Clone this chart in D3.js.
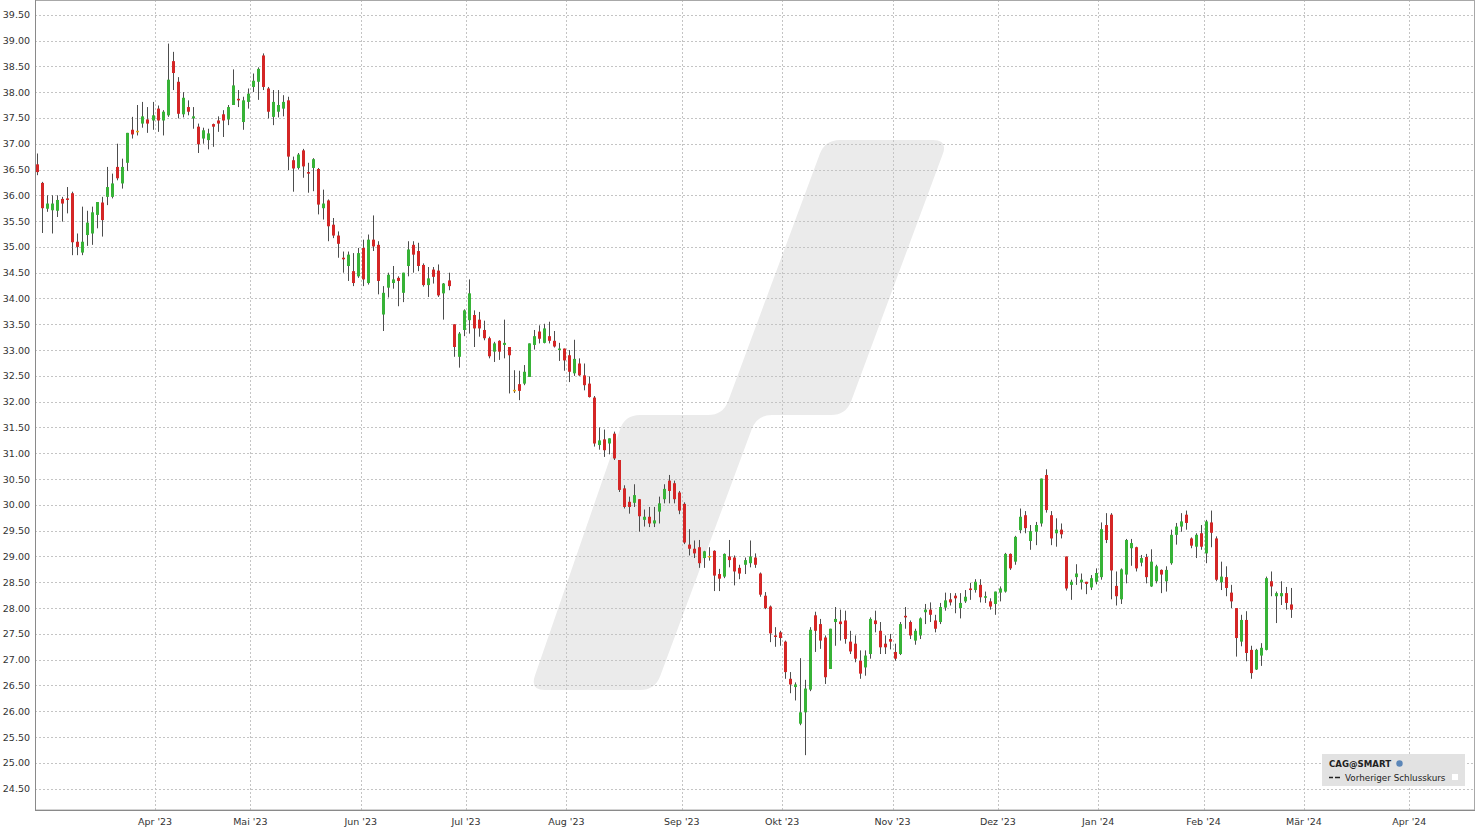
<!DOCTYPE html>
<html><head><meta charset="utf-8">
<script src="https://cdn.jsdelivr.net/npm/d3@7"></script>
<style>html,body{margin:0;padding:0;background:#fff;} svg{display:block;font-family:"DejaVu Sans",sans-serif;}</style>
</head><body><svg id="c" width="1480" height="833"></svg>
<script>
// ---- categories: trading days (weekdays minus US market holidays) ----
const firstDay = "2023-02-28";
const lastAxisDay = "2024-04-30";
const holidays = ["2023-04-07","2023-05-29","2023-06-19","2023-07-04","2023-09-04","2023-11-23","2023-12-25","2024-01-01","2024-01-15","2024-02-19"];
// ---- x tick labels ----
const tickMonths = ["2023-04","2023-05","2023-06","2023-07","2023-08","2023-09","2023-10","2023-11","2023-12","2024-01","2024-02","2024-03","2024-04"];
const tickLabels = ["Apr '23","Mai '23","Jun '23","Jul '23","Aug '23","Sep '23","Okt '23","Nov '23","Dez '23","Jan '24","Feb '24","Mär '24","Apr '24"];
// ---- y tick labels ----
const yTicks = [24.5,25,25.5,26,26.5,27,27.5,28,28.5,29,29.5,30,30.5,31,31.5,32,32.5,33,33.5,34,34.5,35,35.5,36,36.5,37,37.5,38,38.5,39,39.5];
// ---- series: OHLC ----
const openP = [36.60,36.24,35.74,35.71,35.70,35.93,35.94,36.04,35.10,34.89,35.23,35.26,35.62,35.86,35.97,35.97,36.55,36.23,36.63,37.27,37.25,37.39,37.47,37.45,37.68,37.45,37.55,38.60,38.20,37.57,37.71,37.49,37.33,37.10,37.07,37.38,37.45,37.57,37.47,37.75,37.87,37.42,37.81,38.10,38.20,38.71,38.07,37.52,37.62,37.68,37.84,36.68,36.53,36.87,36.45,36.53,36.51,35.75,35.90,35.43,35.22,34.79,34.63,34.53,34.43,34.98,34.30,35.14,35.04,33.69,34.21,34.30,34.40,34.11,34.63,35.04,34.92,34.65,34.26,34.56,34.54,34.10,34.35,33.50,32.87,33.39,33.58,33.68,33.59,33.39,33.23,32.97,33.18,33.10,33.06,32.23,32.34,32.35,32.48,33.10,33.36,33.14,33.27,33.18,33.01,33.03,32.90,32.55,32.74,32.51,32.35,32.08,31.16,31.27,31.19,31.38,30.87,30.32,30.06,30.04,30.11,29.71,29.77,29.64,29.87,30.11,30.47,30.42,30.24,30.02,29.23,29.15,29.18,28.97,29.01,29.11,28.66,28.61,29.00,28.98,28.78,28.84,28.87,28.98,28.67,28.24,28.03,27.47,27.53,27.35,26.63,26.47,25.76,25.98,26.42,27.86,27.69,27.43,26.82,27.73,27.74,27.76,27.35,27.31,26.98,26.85,27.11,27.76,27.56,27.31,27.40,27.15,27.11,27.85,27.73,27.37,27.47,27.92,27.97,27.76,27.73,28.01,28.17,28.24,28.00,28.13,28.38,28.35,28.45,28.20,28.13,28.08,28.30,28.32,29.05,28.90,29.51,29.80,29.30,29.48,29.64,30.58,29.80,29.45,29.52,29.00,28.45,28.60,28.50,28.51,28.40,28.51,28.60,29.61,29.81,28.43,28.17,28.65,29.16,29.18,28.88,28.99,28.42,28.52,28.74,28.52,28.87,29.42,29.58,29.81,29.35,29.19,29.45,29.06,29.66,29.35,28.50,28.60,28.30,28.00,27.35,27.77,27.19,26.81,27.08,27.19,28.52,28.23,28.23,28.29,28.07];
const highP = [36.81,36.26,36.00,36.00,36.00,35.97,36.16,36.07,35.26,35.78,35.70,35.78,35.87,35.97,36.55,36.42,37.00,36.71,37.21,37.52,37.75,37.81,37.71,37.81,37.74,37.65,38.94,38.78,38.29,38.00,37.84,37.71,37.39,37.31,37.29,37.39,37.53,37.65,37.75,38.44,38.04,37.91,38.07,38.36,38.48,38.75,38.10,38.04,38.04,37.94,37.91,36.75,36.82,36.90,36.63,36.72,36.53,36.11,35.92,35.56,35.30,34.91,34.91,34.88,34.98,35.14,35.24,35.61,35.11,34.24,34.50,34.63,34.43,34.50,35.11,35.11,35.08,34.68,34.61,34.61,34.66,34.30,34.50,33.50,33.35,33.79,34.37,33.77,33.74,33.57,33.26,33.16,33.19,33.59,33.06,32.61,32.60,32.71,33.13,33.39,33.48,33.51,33.55,33.37,33.14,33.03,33.00,33.20,32.84,32.74,32.49,32.11,31.50,31.46,31.29,31.42,30.87,30.38,30.16,30.40,30.11,29.91,29.96,29.96,30.16,30.40,30.58,30.47,30.27,30.05,29.53,29.31,29.32,29.11,29.18,29.12,28.76,29.06,29.32,29.02,28.84,28.98,29.31,29.06,28.69,28.31,28.05,27.63,27.56,27.37,26.76,26.56,27.03,26.61,27.63,27.93,27.79,27.47,27.60,28.02,27.97,27.95,27.56,27.47,27.18,27.18,27.82,27.95,27.73,27.47,27.50,27.31,27.73,28.02,27.76,27.60,27.82,28.08,28.11,27.87,28.10,28.30,28.29,28.29,28.29,28.35,28.49,28.56,28.56,28.32,28.19,28.32,28.42,29.07,29.06,29.40,29.93,29.88,29.61,29.67,30.51,30.69,29.88,29.74,29.64,29.00,28.55,28.85,28.67,28.51,28.64,28.77,29.66,29.84,29.84,28.71,28.77,29.34,29.34,29.19,29.03,29.05,29.14,28.84,28.75,28.81,29.52,29.65,29.84,29.89,29.37,29.45,29.61,29.71,29.89,29.39,28.90,28.81,28.45,28.00,27.87,27.94,27.27,27.21,27.32,28.61,28.71,28.32,28.52,28.41,28.39];
const lowP = [36.39,35.27,35.68,35.26,35.58,35.49,35.65,34.84,34.84,34.84,35.02,35.04,35.36,35.20,35.81,35.94,36.29,36.13,36.47,37.10,37.16,37.31,37.21,37.27,37.23,37.16,37.52,38.04,37.49,37.51,37.55,37.29,36.82,37.00,36.89,36.94,37.23,37.13,37.36,37.75,37.71,37.27,37.68,38.00,37.85,38.04,37.49,37.36,37.51,37.53,36.49,36.07,36.50,36.34,36.05,36.08,35.63,35.53,35.11,35.17,34.79,34.50,34.34,34.24,34.40,34.24,34.27,34.92,34.08,33.37,34.02,34.19,33.85,33.93,34.43,34.50,34.53,34.23,34.03,34.29,34.03,33.59,34.16,32.87,32.66,33.27,33.32,33.06,33.26,33.19,32.84,32.77,32.81,32.84,32.16,32.17,32.03,32.32,32.48,33.01,33.13,33.13,33.13,33.05,32.79,32.60,32.38,32.50,32.50,32.22,32.08,31.13,31.07,30.93,30.98,30.87,30.25,29.93,29.83,29.96,29.48,29.58,29.57,29.57,29.64,30.03,30.03,30.03,29.82,29.24,29.02,28.97,28.78,28.78,28.92,28.33,28.33,28.58,28.79,28.44,28.56,28.66,28.79,28.78,28.22,27.98,27.34,27.25,27.27,26.63,26.35,26.21,25.73,25.15,26.39,27.15,27.21,26.53,26.82,27.27,27.37,27.31,27.11,26.95,26.63,26.69,27.02,27.53,27.11,27.11,27.20,26.98,27.09,27.60,27.40,27.29,27.40,27.69,27.73,27.53,27.69,27.95,28.05,27.90,27.80,28.10,28.16,28.30,28.11,28.10,27.97,27.87,28.13,28.30,28.74,28.84,29.45,29.45,29.13,29.22,29.58,29.85,29.22,29.19,29.35,28.34,28.16,28.45,28.36,28.27,28.35,28.46,28.55,29.26,28.17,28.05,28.08,28.48,28.82,28.71,28.81,28.48,28.41,28.48,28.29,28.32,28.84,29.23,29.48,29.52,29.16,28.97,29.13,28.87,29.18,28.52,28.35,28.23,28.00,27.06,27.26,26.97,26.63,26.80,26.88,27.18,28.23,27.71,28.06,27.97,27.81];
const closeP = [36.45,35.75,35.84,35.84,35.91,35.84,35.91,35.09,35.00,35.10,35.47,35.67,35.87,35.52,36.16,36.23,36.33,36.55,37.21,37.18,37.25,37.53,37.39,37.55,37.45,37.62,38.24,38.37,37.58,37.89,37.62,37.53,36.99,37.26,37.20,37.33,37.39,37.45,37.71,38.13,37.84,37.84,37.97,38.22,38.45,38.10,37.62,37.81,37.75,37.81,36.75,36.52,36.79,36.56,36.42,36.70,35.82,35.84,35.40,35.22,35.06,34.76,34.85,34.30,34.88,34.37,35.14,35.01,34.34,34.11,34.46,34.37,34.34,34.50,34.95,34.85,34.63,34.26,34.39,34.42,34.06,34.29,34.24,33.06,33.32,33.77,34.10,33.42,33.42,33.23,32.88,33.13,32.97,33.14,32.90,32.23,32.21,32.58,33.13,33.27,33.22,33.42,33.18,33.07,33.03,32.80,32.58,32.83,32.51,32.32,32.09,31.19,31.25,31.06,31.29,30.90,30.29,29.96,29.96,30.19,29.78,29.77,29.64,29.70,30.03,30.31,30.27,30.11,29.89,29.27,29.15,29.06,28.87,29.10,29.01,28.63,28.57,29.05,28.93,28.71,28.67,28.93,29.00,28.84,28.26,28.00,27.51,27.44,27.42,26.76,26.52,26.52,25.98,26.44,27.58,27.56,27.37,26.66,27.60,27.79,27.69,27.40,27.16,27.02,26.73,27.08,27.79,27.69,27.24,27.24,27.35,27.02,27.69,27.82,27.47,27.56,27.80,27.97,27.87,27.60,28.02,28.15,28.11,28.19,28.10,28.22,28.35,28.51,28.21,28.23,28.03,28.32,28.38,29.05,28.77,29.38,29.77,29.55,29.49,29.61,30.51,29.90,29.35,29.52,29.43,28.38,28.51,28.67,28.55,28.47,28.58,28.68,29.53,29.32,28.73,28.23,28.75,29.32,29.26,28.77,28.97,28.60,28.90,28.81,28.65,28.74,29.42,29.58,29.68,29.65,29.21,29.42,29.19,29.68,29.46,28.55,28.61,28.39,28.13,27.42,27.77,27.13,26.74,27.19,27.23,28.58,28.42,28.29,28.29,28.10,27.97];

// ---- build trading-day index ----
const parse = d3.utcParse("%Y-%m-%d"), fmt = d3.utcFormat("%Y-%m-%d"), fmtM = d3.utcFormat("%Y-%m");
const days = d3.utcDays(parse(firstDay), d3.utcDay.offset(parse(lastAxisDay), 1))
  .filter(d => d.getUTCDay() % 6 !== 0 && !holidays.includes(fmt(d)));
const candles = openP.map((o, i) => ({i, date: days[i], o, h: highP[i], l: lowP[i], c: closeP[i]}));

const svg = d3.select("#c");
const L = 35, R = 1474, T = 0.5, B = 810;
const x = d3.scaleLinear().domain([-0.42, 286.4]).range([L, R]);
const y = d3.scaleLinear().domain([24.087, 39.785]).range([B, 0]);

// watermark (rounded slanted step shape)
const wm = [[825,140],[948,140],[846,415],[757,415],[655,690],[530,690],[625,415],[723,415]];
function roundedPath(pts, r) {
  const n = pts.length; let d = "";
  for (let k = 0; k < n; k++) {
    const p0 = pts[(k - 1 + n) % n], p1 = pts[k], p2 = pts[(k + 1) % n];
    const l1 = Math.hypot(p1[0]-p0[0], p1[1]-p0[1]), l2 = Math.hypot(p2[0]-p1[0], p2[1]-p1[1]);
    const a = [p1[0] + (p0[0]-p1[0]) * r / l1, p1[1] + (p0[1]-p1[1]) * r / l1];
    const b = [p1[0] + (p2[0]-p1[0]) * r / l2, p1[1] + (p2[1]-p1[1]) * r / l2];
    d += (k === 0 ? "M" : "L") + a[0] + "," + a[1] + "Q" + p1[0] + "," + p1[1] + " " + b[0] + "," + b[1];
  }
  return d + "Z";
}
svg.append("path").attr("d", roundedPath(wm, 15)).attr("fill", "#ebebeb");

// grid
const g = svg.append("g");
g.selectAll("line.h").data(yTicks).join("line")
  .attr("x1", L).attr("x2", R).attr("y1", d => Math.round(y(d)) + 0.5).attr("y2", d => Math.round(y(d)) + 0.5)
  .attr("stroke", "#c4c4c4").attr("stroke-dasharray", "2,2");
const monthTicks = tickMonths.map((m, k) => {
  const idx = days.findIndex(d => fmtM(d) === m);
  return {pos: idx - 0.5, label: tickLabels[k]};
});
g.selectAll("line.v").data(monthTicks).join("line")
  .attr("x1", d => Math.round(x(d.pos)) + 0.5).attr("x2", d => Math.round(x(d.pos)) + 0.5)
  .attr("y1", 0).attr("y2", B).attr("stroke", "#c4c4c4").attr("stroke-dasharray", "2,2");

// frame
svg.append("rect").attr("x", L + 0.5).attr("y", T).attr("width", R - L).attr("height", B - T)
  .attr("fill", "none").attr("stroke", "#a8a8a8");
svg.append("line").attr("x1", L + 0.5).attr("x2", L + 0.5).attr("y1", 0).attr("y2", B + 0.5).attr("stroke", "#8a8a8a");
svg.append("line").attr("x1", L).attr("x2", R + 1).attr("y1", B + 0.5).attr("y2", B + 0.5).attr("stroke", "#8a8a8a");

// axis labels
svg.append("g").selectAll("text").data(yTicks).join("text")
  .attr("x", 30).attr("y", d => y(d) + 3.5).attr("text-anchor", "end")
  .attr("font-size", 9.5).attr("fill", "#333").text(d => d.toFixed(2));
svg.append("g").selectAll("text").data(monthTicks).join("text")
  .attr("x", d => x(d.pos)).attr("y", 825).attr("text-anchor", "middle")
  .attr("font-size", 9.5).attr("fill", "#333").text(d => d.label);

// candles
const up = "#37b337", down = "#d42626", flat = "#e8a915", wick = "#4d4d4d";
const cg = svg.append("g");
const cs = cg.selectAll("g").data(candles).join("g");
cs.append("line")
  .attr("x1", d => Math.round(x(d.i)) + 0.5).attr("x2", d => Math.round(x(d.i)) + 0.5)
  .attr("y1", d => y(d.h)).attr("y2", d => y(d.l)).attr("stroke", wick).attr("stroke-width", 1);
cs.append("rect")
  .attr("x", d => Math.round(x(d.i)) - 1).attr("width", 3)
  .attr("y", d => y(Math.max(d.o, d.c)))
  .attr("height", d => Math.max(1.5, Math.abs(y(d.o) - y(d.c))))
  .attr("fill", d => d.c > d.o ? up : (d.c < d.o ? down : flat));

// legend
const lg = svg.append("g");
lg.append("rect").attr("x", 1322).attr("y", 754).attr("width", 143).attr("height", 32).attr("fill", "#e2e2e2");
lg.append("text").attr("x", 1329).attr("y", 767).attr("font-size", 8.6).attr("font-weight", "bold").attr("fill", "#222").text("CAG@SMART");
lg.append("circle").attr("cx", 1399.5).attr("cy", 763.5).attr("r", 3.2).attr("fill", "#5b86b8");
lg.append("line").attr("x1", 1329).attr("x2", 1333).attr("y1", 777.5).attr("y2", 777.5).attr("stroke", "#222").attr("stroke-width", 1.5);
lg.append("line").attr("x1", 1335).attr("x2", 1340).attr("y1", 777.5).attr("y2", 777.5).attr("stroke", "#222").attr("stroke-width", 1.5);
lg.append("text").attr("x", 1345).attr("y", 781).attr("font-size", 8.8).attr("fill", "#222").text("Vorheriger Schlusskurs");
lg.append("rect").attr("x", 1452).attr("y", 774).attr("width", 6).attr("height", 6).attr("fill", "#fff");
</script></body></html>
